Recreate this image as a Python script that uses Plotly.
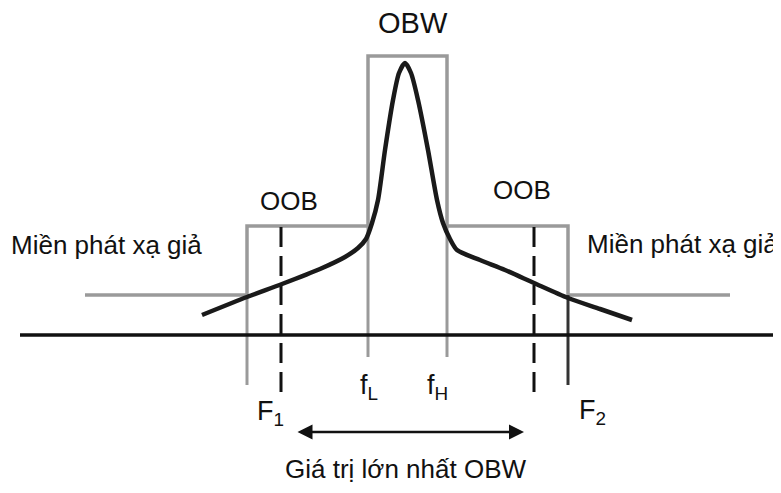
import plotly.graph_objects as go

# ---- data (schematic frequency axis / level axis, arbitrary units) ----
freq_names = ["F1", "fL", "fH", "F2"]
freq_vals = [247, 368, 447, 568]          # frequency markers
obw_limits = [281, 534]                   # max OBW (dashed limits)
spur_extent = [85, 730]                   # spurious-domain mask extent
baseline_extent = [20, 790]
level_names = ["baseline", "spurious", "oob", "obw"]
level_vals = [158, 198, 267, 437]
marker_bottom_outer = 108                 # F1 / F2 ticks
marker_bottom_inner = 136                 # fL / fH ticks
dash_bottom = 96
arrow_level = 61

# emission spectrum
spec_f = [202, 247, 282, 320, 345, 358, 366, 372, 378, 385, 393, 399, 405,
          411, 418, 428, 437, 443, 450, 457, 480, 505, 534, 568, 600, 632]
spec_lvl = [178, 196, 209, 224, 236, 245, 254, 270, 293, 343, 393, 420, 430,
            420, 393, 343, 293, 270, 254, 243, 233, 223, 210, 195, 184, 173]

F1, fL, fH, F2 = freq_vals
base, spur, oob, obw = level_vals

MASK = "#9a9a9a"
INK = "#111111"

fig = go.Figure()

# mask
fig.add_trace(go.Scatter(
    x=[spur_extent[0], F1, F1, fL, fL, fH, fH, F2, F2, spur_extent[1]],
    y=[spur, spur, oob, oob, obw, obw, oob, oob, spur, spur],
    mode="lines", line=dict(color=MASK, width=3.5), hoverinfo="skip"))
# marker ticks
for fx, yb, col in [(F1, marker_bottom_outer, MASK), (fL, marker_bottom_inner, MASK),
                    (fH, marker_bottom_inner, MASK), (F2, marker_bottom_outer, "#333333")]:
    top = spur if fx in (F1, F2) else oob
    fig.add_trace(go.Scatter(x=[fx, fx], y=[top, yb], mode="lines",
                             line=dict(color=col, width=3), hoverinfo="skip"))

# baseline
fig.add_trace(go.Scatter(x=baseline_extent, y=[base, base], mode="lines",
                         line=dict(color=INK, width=3.5), hoverinfo="skip"))

# dashed OBW limits
for fx in obw_limits:
    fig.add_trace(go.Scatter(x=[fx, fx], y=[oob - 1, dash_bottom], mode="lines",
                             line=dict(color=INK, width=3, dash="20px,9px"),
                             hoverinfo="skip"))

# spectrum
fig.add_trace(go.Scatter(x=spec_f, y=spec_lvl, mode="lines",
                         line=dict(color="#1a1a1a", width=4.5, shape="spline",
                                   smoothing=0.7), hoverinfo="skip"))

FONT = "Liberation Sans, Arial, sans-serif"
ann = []
def txt(x, y, s, size):
    ann.append(dict(x=x, y=y, text=s, showarrow=False, xref="x", yref="y",
                    font=dict(family=FONT, size=size, color=INK)))

txt(413, 470, "OBW", 29)
txt(289, 292, "OOB", 26)
txt(522, 303, "OOB", 26)
txt(106, 248, "Miền phát xạ giả", 26)
txt(682, 249, "Miền phát xạ giả", 26)
txt(270, 80, "F<sub>1</sub>", 27)
txt(592, 81, "F<sub>2</sub>", 27)
txt(369, 106, "f<sub>L</sub>", 27)
txt(437, 106, "f<sub>H</sub>", 27)
txt(405, 24, "Giá trị lớn nhất OBW", 26)

# double arrow
ann.append(dict(x=obw_limits[1] - 10, y=arrow_level, ax=obw_limits[0] + 15, ay=arrow_level,
                xref="x", yref="y", axref="x", ayref="y", text="", showarrow=True,
                arrowhead=2, startarrowhead=2, arrowside="end+start",
                arrowsize=1.2, startarrowsize=1.2, arrowwidth=2.5, arrowcolor=INK))

# page body has an 8px margin: offset the ranges so marks land where they belong
fig.update_layout(
    width=781, height=493, margin=dict(l=0, r=0, t=0, b=0),
    paper_bgcolor="white", plot_bgcolor="white", showlegend=False,
    xaxis=dict(range=[8, 789], visible=False, fixedrange=True),
    yaxis=dict(range=[-8, 485], visible=False, fixedrange=True),
    annotations=ann)

fig.write_html("out.html")
